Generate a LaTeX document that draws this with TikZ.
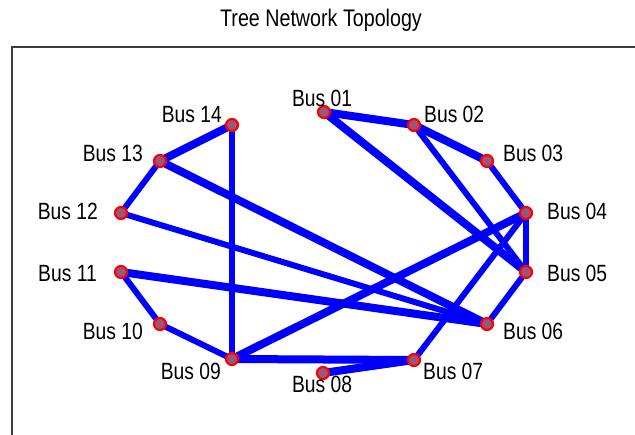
\documentclass[tikz,border=0pt]{standalone}
\usepackage{fontspec}
\setmainfont[FakeStretch=0.82]{Liberation Sans}
\usepackage{xcolor}
\usepackage{tikz}
\usetikzlibrary{positioning,backgrounds}

\definecolor{linkblue}{RGB}{0,0,255}
\definecolor{busfill}{RGB}{150,88,122}
\definecolor{framegray}{RGB}{60,60,60}

\begin{document}
\begin{tikzpicture}[
  x=1pt, y=-1pt,
  bus/.style={circle, draw=red, fill=busfill, line width=2.2pt, minimum size=12pt, inner sep=0pt},
  lbl/.style={font=\fontsize{23.5}{26}\selectfont, inner sep=0pt},
  thicklink/.style={draw=linkblue, line width=8pt, shorten <=-5pt, shorten >=-5pt},
  thinlink/.style={draw=linkblue, line width=6pt, shorten <=-5pt, shorten >=-5pt}
]
\useasboundingbox (0,0) rectangle (635,435);

% Title and frame
\node[font=\fontsize{24}{26}\selectfont, inner sep=0pt, anchor=base] (title) at (321,27) {Tree Network Topology};
\draw[framegray, line width=2pt] (12,440) -- (12,47) -- (640,47);

% Buses
\node[bus] (b01) at (324,112) {};
\node[bus] (b02) at (414,125) {};
\node[bus] (b03) at (487,161) {};
\node[bus] (b04) at (526,213) {};
\node[bus] (b05) at (526,272) {};
\node[bus] (b06) at (487,324) {};
\node[bus] (b07) at (414,360) {};
\node[bus] (b08) at (323,373) {};
\node[bus] (b09) at (232,359) {};
\node[bus] (b10) at (160,324) {};
\node[bus] (b11) at (121,272) {};
\node[bus] (b12) at (121,213) {};
\node[bus] (b13) at (160,161) {};
\node[bus] (b14) at (232,125) {};

% Links
\begin{scope}[on background layer]
\draw[thicklink] (b01) -- (b02);
\draw[thicklink] (b01) -- (b05);
\draw[thicklink] (b02) -- (b03);
\draw[thinlink] (b02) -- (b05);
\draw[thinlink] (b03) -- (b04);
\draw[thinlink] (b04) -- (b05);
\draw[thinlink] (b04) -- (b07);
\draw[thicklink] (b04) -- (b09);
\draw[thinlink] (b05) -- (b06);
\draw[thicklink] (b06) -- (b11);
\draw[thinlink] (b06) -- (b12);
\draw[thicklink] (b06) -- (b13);
\draw[thicklink] (b07) -- (b08);
\draw[thicklink] (b07) -- (b09);
\draw[thinlink] (b09) -- (b10);
\draw[thinlink] (b09) -- (b14);
\draw[thinlink] (b10) -- (b11);
\draw[thinlink] (b12) -- (b13);
\draw[thicklink] (b13) -- (b14);
\end{scope}

% Labels
\node[lbl, anchor=base] (l01) at (322,107) {Bus 01};
\node[lbl, anchor=base west] (l02) at (424,123) {Bus 02};
\node[lbl, anchor=base west] (l03) at (503,162) {Bus 03};
\node[lbl, anchor=base west] (l04) at (547,220) {Bus 04};
\node[lbl, anchor=base west] (l05) at (547,282) {Bus 05};
\node[lbl, anchor=base west] (l06) at (503,340) {Bus 06};
\node[lbl, anchor=base west] (l07) at (423,380) {Bus 07};
\node[lbl, anchor=base] (l08) at (322,393) {Bus 08};
\node[lbl, anchor=base east] (l09) at (221,380) {Bus 09};
\node[lbl, anchor=base east] (l10) at (143,340) {Bus 10};
\node[lbl, anchor=base east] (l11) at (97,282) {Bus 11};
\node[lbl, anchor=base east] (l12) at (98,220) {Bus 12};
\node[lbl, anchor=base east] (l13) at (143,162) {Bus 13};
\node[lbl, anchor=base east] (l14) at (222,123) {Bus 14};

\end{tikzpicture}
\end{document}
